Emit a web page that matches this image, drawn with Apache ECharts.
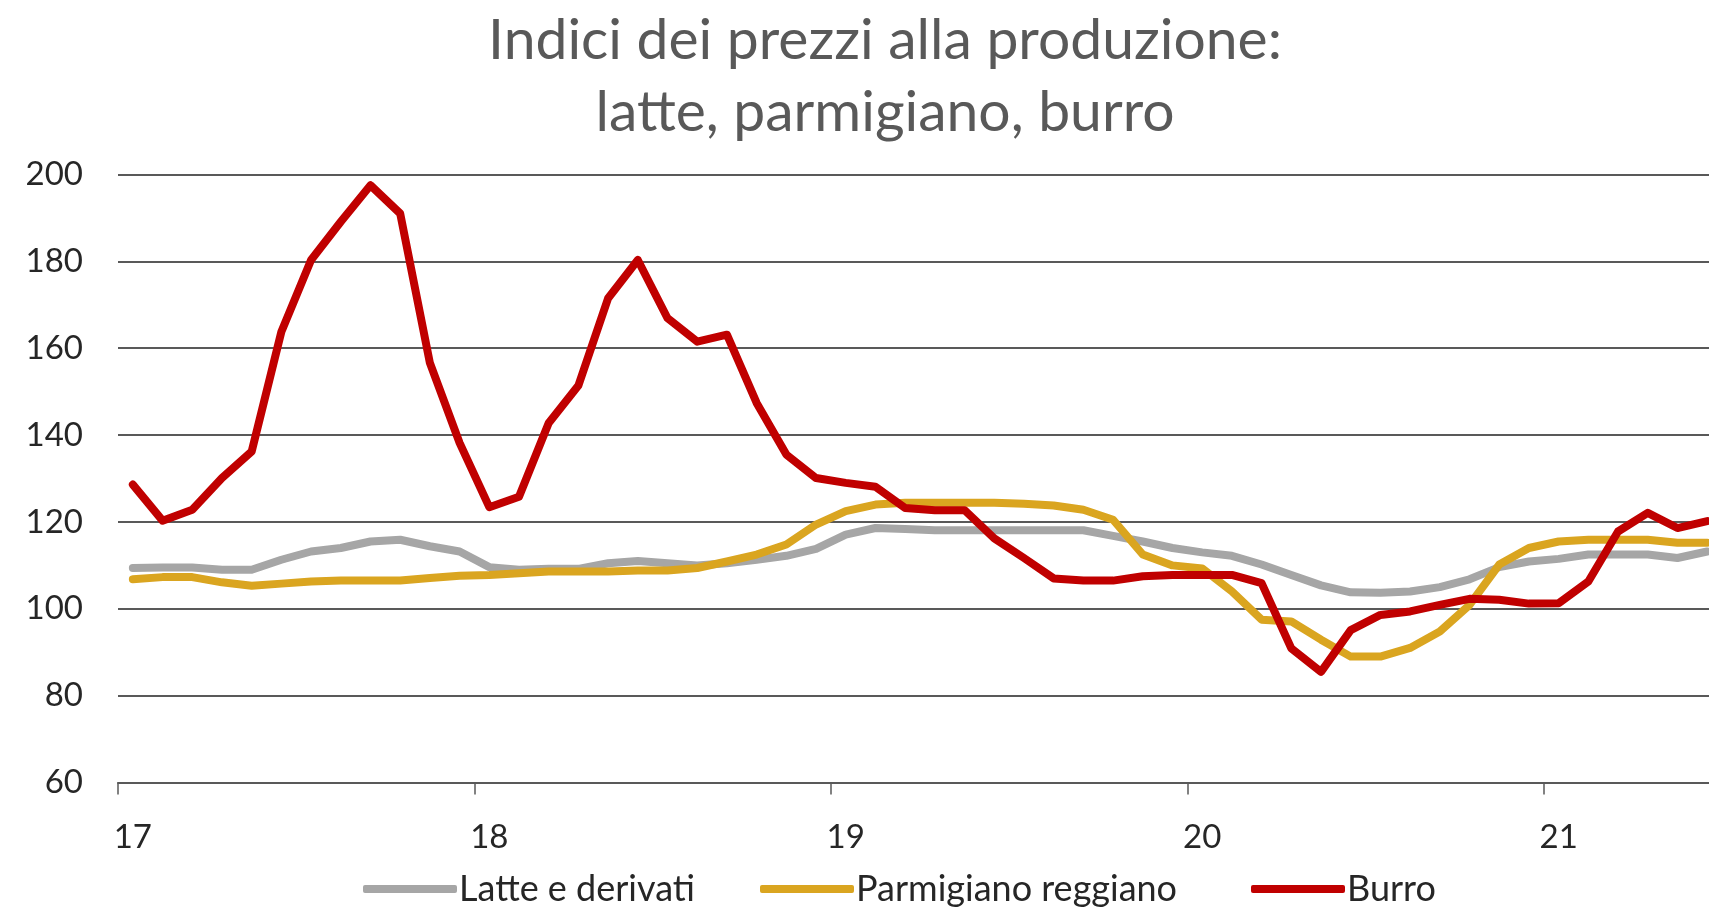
<!DOCTYPE html>
<html>
<head>
<meta charset="utf-8">
<script src="https://cdn.jsdelivr.net/npm/echarts@6/dist/echarts.min.js"></script>
<style>
  html, body { margin: 0; padding: 0; background: #ffffff; overflow: hidden; width: 1709px; height: 907px; }
  #chart { width: 1722px; height: 907px; }
</style>
</head>
<body>
<div id="chart"></div>
<script>
const categories = [
  'gen 17','feb 17','mar 17','apr 17','mag 17','giu 17','lug 17','ago 17','set 17','ott 17','nov 17','dic 17',
  'gen 18','feb 18','mar 18','apr 18','mag 18','giu 18','lug 18','ago 18','set 18','ott 18','nov 18','dic 18',
  'gen 19','feb 19','mar 19','apr 19','mag 19','giu 19','lug 19','ago 19','set 19','ott 19','nov 19','dic 19',
  'gen 20','feb 20','mar 20','apr 20','mag 20','giu 20','lug 20','ago 20','set 20','ott 20','nov 20','dic 20',
  'gen 21','feb 21','mar 21','apr 21','mag 21','giu 21'
];
const latte = [
  109.4, 109.5, 109.5, 109.0, 109.0, 111.3, 113.2, 114.0, 115.5, 115.9, 114.4, 113.2,
  109.6, 109.0, 109.2, 109.2, 110.5, 111.0, 110.5, 110.0, 110.5, 111.3, 112.2, 113.8,
  117.1, 118.6, 118.4, 118.1, 118.1, 118.1, 118.1, 118.1, 118.1, 116.8, 115.5, 114.0,
  113.0, 112.2, 110.2, 107.8, 105.4, 103.8, 103.7, 104.0, 105.0, 106.8, 109.6, 110.9,
  111.5, 112.5, 112.5, 112.5, 111.7, 113.2
];
const parmigiano = [
  106.8, 107.3, 107.3, 106.1, 105.3, 105.8, 106.3, 106.5, 106.5, 106.5, 107.1, 107.6,
  107.8, 108.2, 108.6, 108.6, 108.6, 108.8, 108.8, 109.4, 110.9, 112.5, 114.8, 119.4,
  122.5, 124.0, 124.4, 124.4, 124.4, 124.4, 124.2, 123.8, 122.8, 120.5, 112.5, 110.0,
  109.3, 104.0, 97.5, 97.1, 92.9, 89.0, 89.0, 91.0, 94.8, 100.9, 110.2, 114.0,
  115.5, 115.9, 115.9, 115.9, 115.2, 115.2
];
const burro = [
  128.6, 120.3, 122.8, 130.1, 136.2, 163.8, 180.3, 189.1, 197.5, 191.0, 156.6, 138.2,
  123.4, 125.8, 142.8, 151.4, 171.5, 180.3, 166.9, 161.5, 163.1, 147.4, 135.5, 130.1,
  129.0, 128.1, 123.2, 122.7, 122.7, 116.2, 111.7, 107.0, 106.5, 106.5, 107.5, 107.8,
  107.8, 107.8, 105.9, 90.9, 85.5, 95.1, 98.6, 99.4, 100.9, 102.3, 102.1, 101.2,
  101.3, 106.3, 117.8, 122.1, 118.6, 120.2
];
const seriesNames = ['Latte e derivati', 'Parmigiano reggiano', 'Burro'];
const seriesColors = ['#A6A6A6', '#DAA520', '#C00000'];
const titleText = 'Indici dei prezzi alla produzione:\nlatte, parmigiano, burro';

const FONT = 'Lato';
const chart = echarts.init(document.getElementById('chart'), null, { renderer: 'canvas' });
const values = [latte, parmigiano, burro];
const legendLefts = [358, 755, 1246];

chart.setOption({
  animation: false,
  backgroundColor: '#ffffff',
  title: {
    text: titleText,
    left: 880,
    top: 0,
    textAlign: 'center',
    textStyle: {
      fontFamily: FONT,
      fontSize: 57,
      fontWeight: 'normal',
      color: '#595959',
      lineHeight: 72
    }
  },
  legend: seriesNames.map((name, k) => ({
    left: legendLefts[k],
    top: 866,
    itemWidth: 94,
    itemHeight: 8,
    itemGap: 0,
    icon: 'roundRect',
    data: [name],
    textStyle: { fontFamily: FONT, fontSize: 36, color: '#262626', padding: [0, 0, 0, -3] }
  })),
  grid: {
    left: 118,
    top: 174.4,
    right: 0,
    height: 608.2,
    containLabel: false
  },
  xAxis: {
    type: 'category',
    data: categories,
    boundaryGap: true,
    axisLine: { show: true, lineStyle: { color: '#595959', width: 2 } },
    axisTick: { show: true, interval: 11, length: 12, lineStyle: { color: '#595959', width: 1.5 } },
    axisLabel: {
      interval: 11,
      margin: 38,
      fontFamily: FONT,
      fontSize: 33,
      color: '#262626',
      formatter: v => v.split(' ')[1]
    },
    splitLine: { show: false }
  },
  yAxis: {
    type: 'value',
    min: 60,
    max: 200,
    interval: 20,
    axisLine: { show: false },
    axisTick: { show: false },
    axisLabel: { margin: 35, fontFamily: FONT, fontSize: 33, color: '#262626' },
    splitLine: { show: true, lineStyle: { color: '#595959', width: 2 } }
  },
  series: seriesNames.map((name, k) => ({
    name: name,
    type: 'line',
    data: values[k],
    symbol: 'none',
    smooth: false,
    color: seriesColors[k],
    lineStyle: { width: 8, color: seriesColors[k], join: 'round', cap: 'round' },
    itemStyle: { color: seriesColors[k] },
    z: 2 + k
  }))
});
</script>
</body>
</html>
